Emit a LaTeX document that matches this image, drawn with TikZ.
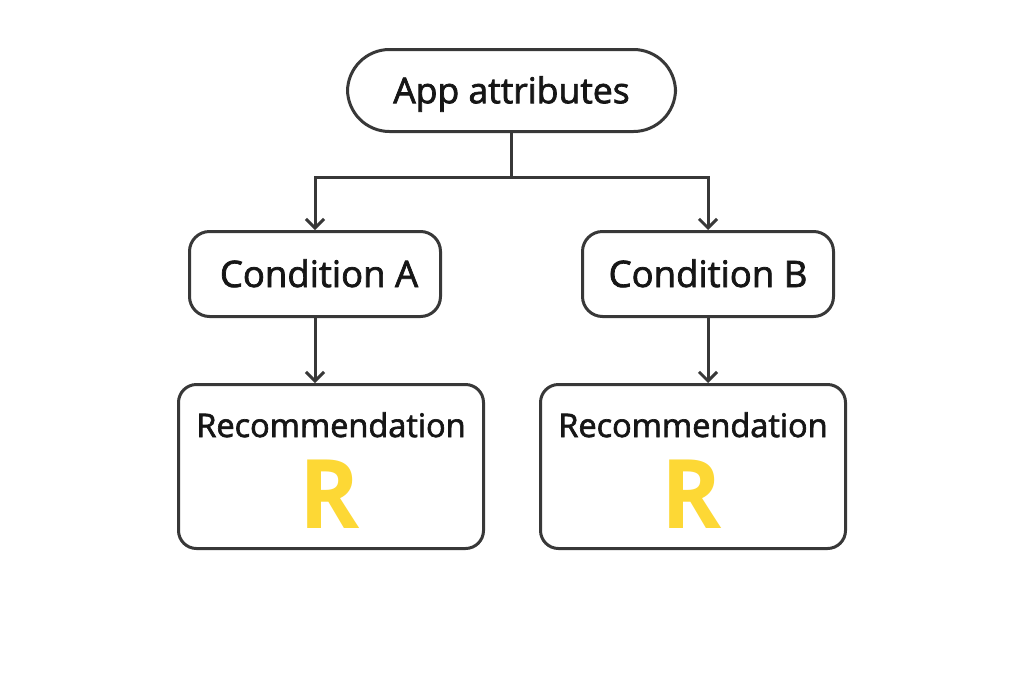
\documentclass[tikz,border=0pt]{standalone}
\usepackage{fontspec}
\setmainfont{Open Sans}[FakeBold=2]
\newfontfamily\boldR{Open Sans}
\usetikzlibrary{arrows.meta,positioning}
\definecolor{linec}{HTML}{383838}
\definecolor{textc}{HTML}{161616}
\definecolor{ryel}{HTML}{FDD835}
\tikzset{
  box/.style={draw=linec, line width=3pt, rounded corners=20pt, fill=white, inner sep=0pt},
  pill/.style={draw=linec, line width=3pt, rounded corners=42pt, fill=white, inner sep=0pt,
    minimum width=328pt, minimum height=82pt, font=\fontsize{35.5}{40}\selectfont, text=textc,
    text height=25.4pt, text depth=0pt},
  cond/.style={box, minimum width=251pt, minimum height=85pt, font=\fontsize{36.5}{40}\selectfont, text=textc,
    text height=26pt, text depth=0pt},
  rec/.style={box, rounded corners=18pt, minimum width=305pt, minimum height=164pt},
  rectext/.style={font=\fontsize{32.5}{36}\selectfont, text=textc, inner sep=0pt, anchor=base},
  bigR/.style={font=\boldR\bfseries\fontsize{96}{100}\selectfont, text=ryel, inner sep=0pt, anchor=base, xscale=0.95},
  conn/.style={draw=linec, line width=3pt},
  arr/.style={conn, -{Straight Barb[length=9pt,width=18pt,line width=3pt]}}
}
\begin{document}
\begin{tikzpicture}[x=1pt,y=-1pt]
\useasboundingbox[fill=white] (0,0) rectangle (1024,683);
\node[pill] (app) at (511.5,90.5) {App attributes};
\node[cond] (condA) at (315,274) {\hspace*{8pt}Condition A};
\node[cond] (condB) at (708,274) {Condition B};
\node[rec] (recA) at (331,466.5) {};
\node[rec] (recB) at (693,466.5) {};
\node[rectext] (recAt) at (331,437) {Recommendation};
\node[rectext] (recBt) at (693,437) {Recommendation};
\node[bigR] (recAR) at (330,528) {R};
\node[bigR] (recBR) at (692,528) {R};
\coordinate (j) at (511.5,177);
\draw[conn] (app.south) -- (j);
\draw[arr] (j) -| (condA.north);
\draw[arr] (j) -| (condB.north);
\draw[arr] (condA.south) -- (condA.south |- recA.north);
\draw[arr] (condB.south) -- (condB.south |- recB.north);
\end{tikzpicture}
\end{document}
